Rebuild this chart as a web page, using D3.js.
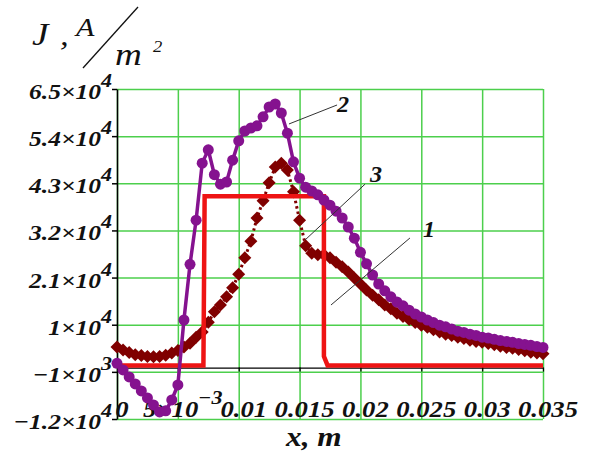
<!DOCTYPE html>
<html><head><meta charset="utf-8">
<script src="https://cdn.jsdelivr.net/npm/d3@7"></script>
<style>body{margin:0;background:#fff}svg{display:block}</style>
</head><body><svg id="c" width="593" height="455"></svg>
<script>
// ---- data ----
const xValues = [0,0.0005,0.001,0.0015,0.002,0.0025,0.003,0.0035,0.004,0.0045,
 0.005,0.0055,0.006,0.0065,0.007,0.0075,0.008,0.0085,0.009,0.0095,
 0.01,0.0105,0.011,0.0115,0.012,0.0125,0.013,0.0135,0.014,0.0145,
 0.015,0.0155,0.016,0.0165,0.017,0.0175,0.018,0.0185,0.019,0.0195,
 0.02,0.0205,0.021,0.0215,0.022,0.0225,0.023,0.0235,0.024,0.0245,
 0.025,0.0255,0.026,0.0265,0.027,0.0275,0.028,0.0285,0.029,0.0295,
 0.03,0.0305,0.031,0.0315,0.032,0.0325,0.033,0.0335,0.034,0.0345,0.035];
const series1X = [0,0.0071,0.0072,0.0170,0.0170,0.0173,0.035];
const series1Y = [500,500,40000,40000,2600,500,500];
const series2Y = [1000,-560,-2190,-3830,-5460,-7090,-8730,-10360,-10100,-7560,
 -4060,11100,24100,34400,47700,50800,45000,42800,43300,48400,
 52900,55200,55900,56400,58500,60800,61500,59400,54700,48000,
 44200,42100,41200,40300,39100,37900,36500,34900,32800,30200,
 26900,24200,21600,19500,17900,16500,15300,14400,13400,12500,
 11800,11100,10500,9900,9500,9000,8500,8200,7800,7500,
 7100,6900,6600,6300,6100,5900,5600,5400,5200,4900,4700];
const series3Y = [4800,4100,3500,3000,2800,2600,2500,2600,2900,3400,
 4000,4800,5700,7100,8300,10600,13000,14600,16500,18600,
 21800,25600,29500,34900,38900,43100,46800,47700,46100,41000,
 34400,28400,26700,26300,26300,25600,24600,23500,22300,20900,
 19500,18100,16900,15800,14600,13700,12700,11900,11200,10500,
 9900,9400,8800,8300,7800,7500,7100,6800,6400,6100,
 5900,5600,5300,5000,4700,4500,4200,3900,3600,3400,3200];
const yTickValues = [65000,54000,43000,32000,21000,10000,-1000,-12000];
const yTickMant = ["6.5×10","5.4×10","4.3×10","3.2×10","2.1×10","1×10","−1×10","−1.2×10"];
const yTickExp = ["4","4","4","4","4","4","3","4"];
const xTickValues = [0,0.005,0.01,0.015,0.02,0.025,0.03,0.035];
const xTickMant = ["0","5×10","0.01","0.015","0.02","0.025","0.03","0.035"];
const xTickExp = ["","−3","","","","","",""];
const curveLabels = ["1","2","3"];
const curveLabelPos = [[0.02514,30470],[0.01808,59600],[0.02079,43260]];
const leaderFrom = [[0.02407,30240],[0.01808,61270],[0.02038,42800]];
const leaderTo = [[0.01758,14600],[0.01413,56840],[0.01545,29770]];

// ---- drawing ----
const svg = d3.select("#c");
const L=117,R=543,T=89,B=419;
const x = d3.scaleLinear().domain([0,0.035]).range([L,R]);
const y = d3.scaleLinear().domain([-12000,65000]).range([B,T]);
const SX = 1.16;
const GREEN = "#4ccf4c";
const FONT = "Liberation Serif, serif";

// grid
svg.append("g").attr("transform",`translate(0,${B})`)
  .call(d3.axisBottom(x).tickValues(xTickValues).tickSize(-(B-T)).tickSizeOuter(0).tickFormat(""))
  .call(g=>{g.select(".domain").remove(); g.selectAll("line").attr("stroke",GREEN).attr("stroke-width",1.5);});
svg.append("g").attr("transform",`translate(${R},0)`)
  .call(d3.axisLeft(y).tickValues(yTickValues).tickSize(R-L).tickSizeOuter(0).tickFormat(""))
  .call(g=>{g.select(".domain").remove(); g.selectAll("line").attr("stroke",GREEN).attr("stroke-width",1.5);});

// black axes
svg.append("g").attr("transform",`translate(${x(0)},0)`)
  .call(d3.axisLeft(y).tickValues(yTickValues).tickSize(5).tickSizeOuter(0).tickFormat(""))
  .call(g=>{g.selectAll("path,line").attr("stroke","#000").attr("stroke-width",1.5);});
svg.append("g").attr("transform",`translate(0,${y(0)})`)
  .call(d3.axisBottom(x).tickValues(xTickValues).tickSize(4).tickSizeOuter(0).tickFormat(""))
  .call(g=>{g.selectAll("path,line").attr("stroke","#000").attr("stroke-width",1.2);});

function label(px, py, anchor, parts, opts={}) {
  const t = svg.append("text")
    .attr("transform",`translate(${px},${py}) scale(${opts.sx||SX},1)`)
    .attr("text-anchor",anchor)
    .attr("font-family",FONT)
    .attr("font-style",opts.style||"italic")
    .attr("font-weight",opts.weight||"bold")
    .attr("fill","#111");
  parts.forEach(p=>{
    const s = t.append("tspan").attr("font-size",p.size).text(p.t);
    if (p.dy) s.attr("dy",p.dy);
  });
  return t;
}

// y tick labels
yTickValues.forEach((v,i)=>{
  label(112, y(v)+10, "end", [{t:yTickMant[i],size:22},{t:yTickExp[i],size:19,dy:-12}]);
});
// x tick labels
xTickValues.forEach((v,i)=>{
  const parts=[{t:xTickMant[i],size:23}];
  if (xTickExp[i]) parts.push({t:xTickExp[i],size:19,dy:-13});
  label(x(v)+5, 417, "middle", parts);
});

// title
label(32, 45, "start", [{t:"J",size:32}], {weight:"normal"});
label(60, 45, "start", [{t:",",size:30}], {weight:"normal"});
label(76, 36, "start", [{t:"A",size:26}], {weight:"normal"});
svg.append("line").attr("x1",83).attr("y1",68).attr("x2",138).attr("y2",7).attr("stroke","#111").attr("stroke-width",1.3);
label(115, 65, "start", [{t:"m",size:32}], {weight:"normal"});
label(153, 52, "start", [{t:"2",size:16}], {weight:"normal"});
// x axis title
label(286, 446, "start", [{t:"x, m",size:27}]);

// curves
const line = d3.line().x(d=>x(d[0])).y(d=>y(d[1]));
const d3data = xValues.map((v,i)=>[v,series3Y[i]]);
const d2data = xValues.map((v,i)=>[v,series2Y[i]]);
const d1data = series1X.map((v,i)=>[v,series1Y[i]]);

// series 3 (dark red diamonds, dotted)
svg.append("path").datum(d3data).attr("d",line).attr("fill","none")
  .attr("stroke","#800000").attr("stroke-width",3).attr("stroke-dasharray","2.5,3");
svg.append("g").selectAll("path").data(d3data).join("path")
  .attr("d","M0,-6.5L6.5,0L0,6.5L-6.5,0Z")
  .attr("transform",d=>`translate(${x(d[0])},${y(d[1])})`)
  .attr("fill","#800000");

// series 1 (red)
svg.append("path").datum(d1data).attr("d",line).attr("fill","none")
  .attr("stroke","#ee1414").attr("stroke-width",4.5).attr("stroke-linejoin","miter");

// series 2 (purple circles)
svg.append("path").datum(d2data).attr("d",line).attr("fill","none")
  .attr("stroke","#85128f").attr("stroke-width",3.5);
svg.append("g").selectAll("circle").data(d2data).join("circle")
  .attr("cx",d=>x(d[0])).attr("cy",d=>y(d[1])).attr("r",5.5)
  .attr("fill","#85128f");

// leaders and curve labels
leaderFrom.forEach((f,i)=>{
  svg.append("line").attr("x1",x(f[0])).attr("y1",y(f[1]))
    .attr("x2",x(leaderTo[i][0])).attr("y2",y(leaderTo[i][1]))
    .attr("stroke","#333").attr("stroke-width",1);
  label(x(curveLabelPos[i][0]), y(curveLabelPos[i][1]), "start", [{t:curveLabels[i],size:23}], {sx:1.05});
});
</script></body></html>
